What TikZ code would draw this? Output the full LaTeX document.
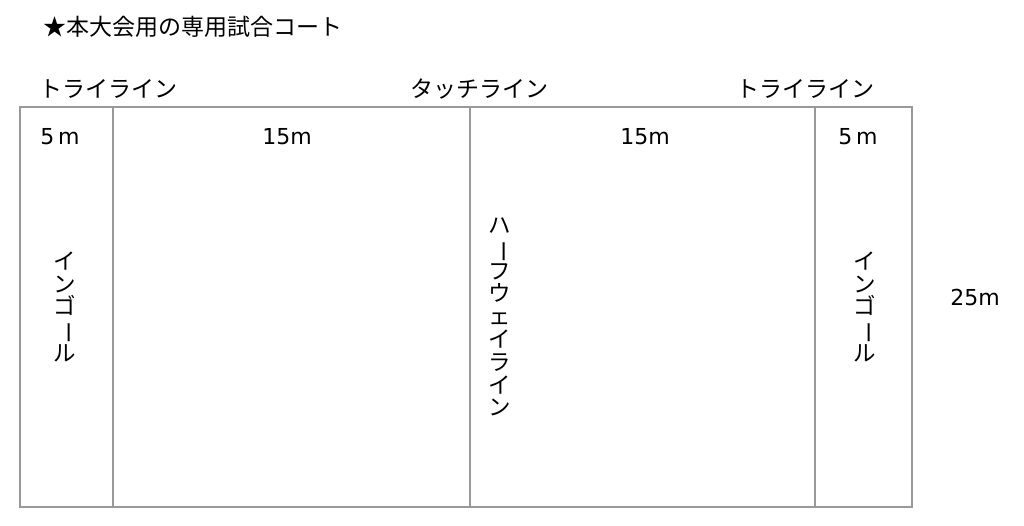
\documentclass[tikz,border=0pt]{standalone}
\usepackage{fontspec}
\setmainfont{Noto Sans CJK JP}
\newfontfamily\latinfont{DejaVu Sans}
\definecolor{courtgray}{HTML}{999999}
\newcommand{\vbarchar}{\rotatebox[origin=c]{-90}{ー}}
\begin{document}
\begin{tikzpicture}[x=1pt,y=-1pt,
  courtline/.style={draw=courtgray,line width=1.5pt},
  lab/.style={font=\fontsize{23}{24}\selectfont,inner sep=0pt,text=black},
  numlab/.style={font=\latinfont\fontsize{22}{24}\selectfont,inner sep=0pt,text=black},
  vlab/.style={lab,align=center,font=\fontsize{22.5}{22.8}\selectfont}]
\useasboundingbox (0,0) rectangle (1024,525);
% court
\coordinate (tl) at (20,107);
\coordinate (br) at (912,507);
\draw[courtline] (tl) rectangle (br);
\draw[courtline] (113,107) -- (113,507);
\draw[courtline] (470,107) -- (470,507);
\draw[courtline] (815,107) -- (815,507);
% title
\node[lab,anchor=west] (title) at (43,27) {★本大会用の専用試合コート};
% top labels
\node[lab] (tryL) at (108,89) {トライライン};
\node[lab] (touch) at (479,89) {タッチライン};
\node[lab] (tryR) at (805,89) {トライライン};
% distances
\node[numlab] (d1) at (60,137) {5\,m};
\node[numlab] (d2) at (287,137) {15m};
\node[numlab] (d3) at (645,137) {15m};
\node[numlab] (d4) at (858,137) {5\,m};
\node[numlab] (d5) at (975,297) {25m};
% vertical labels
\node[vlab] (ingoalL) at (65,307) {イ\\ン\\ゴ\\\vbarchar\\ル};
\node[vlab] (half) at (500,317) {ハ\\\vbarchar\\フ\\ウ\\ェ\\イ\\ラ\\イ\\ン};
\node[vlab] (ingoalR) at (865,307) {イ\\ン\\ゴ\\\vbarchar\\ル};
\end{tikzpicture}
\end{document}
